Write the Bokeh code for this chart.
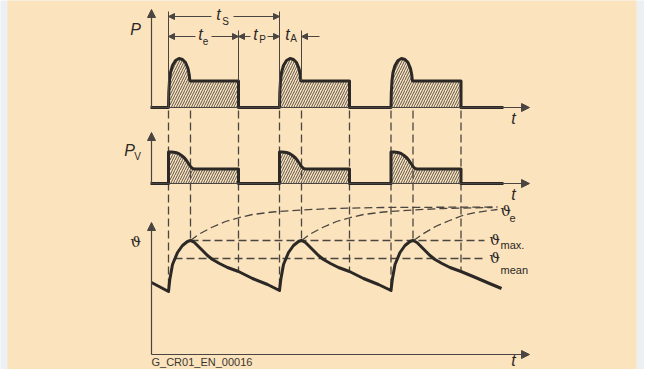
from bokeh.plotting import figure
from bokeh.models import Range1d, Arrow, NormalHead
from bokeh.core.properties import value
from bokeh.embed import file_html
from bokeh.resources import INLINE

# ---------------- data (t in diagram time units, values above each panel baseline) -------------
pulse_start = [17, 128, 239.5]
hump_end = [39, 150, 261.5]
pulse_end = [87, 198, 309.5]

# supplied power P
P_t = [-1, 17, 17.3, 18, 19, 21, 24, 27.5, 31, 34, 36.5, 37.7, 38.3, 39, 87, 87,
       128, 128.3, 129, 130, 132, 135, 138.5, 142, 145, 147.5, 148.7, 149.3, 150, 198, 198,
       239.5, 239.8, 240.5, 241.5, 243.5, 246.5, 250, 253.5, 256.5, 259, 260.2, 260.8, 261.5, 309.5, 309.5,
       352]
P_v = [0, 0, 15, 27, 35, 42, 47, 49, 48, 45, 39, 33, 27, 26.5, 26.5, 0,
       0, 15, 27, 35, 42, 47, 49, 48, 45, 39, 33, 27, 26.5, 26.5, 0,
       0, 15, 27, 35, 42, 47, 49, 48, 45, 39, 33, 27, 26.5, 26.5, 0,
       0]

# power loss Pv
Pv_t = [-1, 17, 17, 20, 24, 27, 30, 33, 35, 37, 39, 41, 43, 87, 87,
        128, 128, 131, 135, 138, 141, 144, 146, 148, 150, 152, 154, 198, 198,
        239.5, 239.5, 242.5, 246.5, 249.5, 252.5, 255.5, 257.5, 259.5, 261.5, 263.5, 265.5, 309.5, 309.5,
        352]
Pv_v = [0, 0, 31.5, 31.5, 31, 30, 28, 25.5, 23, 20, 17, 15, 14.5, 14.5, 0,
        0, 31.5, 31.5, 31, 30, 28, 25.5, 23, 20, 17, 15, 14.5, 14.5, 0,
        0, 31.5, 31.5, 31, 30, 28, 25.5, 23, 20, 17, 15, 14.5, 14.5, 0,
        0]

# temperature theta
th_t = [0, 17, 18.3, 21, 26, 31, 36, 39, 43, 47, 51, 56, 61, 68, 76, 87, 101, 116,
        128, 129.3, 132, 137, 142, 147, 150, 154, 158, 162, 167, 172, 179, 187, 198, 212, 227,
        239.5, 240.8, 243.5, 248.5, 253.5, 258.5, 261.5, 265.5, 269.5, 273.5, 278.5, 283.5, 290.5,
        298.5, 309.5, 324, 338, 350]
th_v = [72, 63, 75, 90, 102, 109, 113, 114, 112, 108, 104, 99, 95, 91, 87, 83, 76, 70,
        64, 75, 90, 102, 109, 113, 114, 112, 108, 104, 99, 95, 91, 87, 83, 76, 70,
        64, 75, 90, 102, 109, 113, 114, 112, 108, 104, 99, 95, 91,
        87, 83, 77, 71, 66]

# heating curves towards the final temperature theta_e
e1_t = [39, 47, 60, 74, 88, 101, 121, 150, 181, 231, 346]
e1_v = [114, 120, 127, 133, 137, 140, 142.5, 144.5, 146, 147, 147.5]
e2_t = [150, 158, 171, 185, 199, 212, 232, 261, 291, 341]
e2_v = [114, 120, 127, 133, 137, 140, 142.5, 144.5, 146, 147]
e3_t = [262, 271, 284, 298, 311, 324, 341, 346]
e3_v = [114, 120.3, 128, 134, 139, 142, 144.3, 145]

# projection lines: bottom ends on theta curve
proj_t = [17, 39, 87, 128, 150, 198, 239.5, 261.5, 309.5]
proj_bottom = [63, 114, 83, 64, 114, 83, 64, 114, 83]
theta_max = 114
theta_mean = 96

# ---------------- layout constants ----------------
P_BASE = 247
PV_BASE = 171
TH_BASE = 0
AX_END = 378
INK = "#2b2825"
THIN = "#4a4540"
BEIGE = "#FBE3BD"
OUTER = "#EDF0F3"
SANS = value("Liberation Sans")
SERIF = value("DejaVu Serif")

p = figure(width=644, height=369, x_range=Range1d(-151, 493), y_range=Range1d(-15, 354),
           output_backend="svg", toolbar_location=None, min_border=0,
           x_axis_type=None, y_axis_type=None)
p.grid.visible = False
p.outline_line_color = None
p.background_fill_color = OUTER
p.border_fill_color = OUTER

p.quad(left=-144, right=485, bottom=-20, top=360, fill_color=BEIGE, line_color=None)

# hatched areas
HATCH = dict(fill_color=None, hatch_pattern="/", hatch_color="#5a534b", hatch_scale=5, hatch_weight=1)
p.varea(x=P_t, y1=[P_BASE] * len(P_t), y2=[P_BASE + v for v in P_v], **HATCH)
p.varea(x=Pv_t, y1=[PV_BASE] * len(Pv_t), y2=[PV_BASE + v for v in Pv_v], **HATCH)

# dashed projection lines
DASH = dict(line_color=THIN, line_width=1.3, line_dash="8 4")
p.segment(x0=proj_t, y0=[244] * len(proj_t), x1=proj_t, y1=proj_bottom, **DASH)
p.segment(x0=[39, 23], y0=[theta_max, theta_mean], x1=[333, 333], y1=[theta_max, theta_mean], **DASH)
p.multi_line(xs=[e1_t, e2_t, e3_t], ys=[e1_v, e2_v, e3_v], **DASH)

# axes with arrows
def axis_arrow(x0, y0, x1, y1, size=8):
    p.add_layout(Arrow(x_start=x0, y_start=y0, x_end=x1, y_end=y1, line_color=THIN, line_width=1.2,
                       end=NormalHead(size=size, fill_color=THIN, line_color=THIN, line_width=1)))

axis_arrow(0, P_BASE, 0, 345)
axis_arrow(0, PV_BASE, 0, 222)
axis_arrow(0, TH_BASE, 0, 132)
for b in (P_BASE, PV_BASE, TH_BASE):
    axis_arrow(0, b, AX_END, b)

# signals
p.line(P_t, [P_BASE + v for v in P_v], line_color=INK, line_width=3, line_join="round")
p.line(Pv_t, [PV_BASE + v for v in Pv_v], line_color=INK, line_width=3, line_join="round")
p.line(th_t, th_v, line_color=INK, line_width=3, line_join="round")

# dimension extension lines
p.segment(x0=[17, 128, 87, 150], y0=[343, 343, 324, 324], x1=[17, 128, 87, 150],
          y1=[P_BASE, P_BASE, P_BASE + 26.5, P_BASE + 26.5], line_color=THIN, line_width=1)

def dim_arrow(x0, x1, y):
    p.add_layout(Arrow(x_start=x0, y_start=y, x_end=x1, y_end=y, line_color=THIN, line_width=1,
                       end=NormalHead(size=6, fill_color=THIN, line_color=THIN, line_width=1)))

dim_arrow(60, 17, 338); dim_arrow(82, 128, 338)
dim_arrow(44, 17, 318); dim_arrow(60, 87, 318)
dim_arrow(99, 87, 318); dim_arrow(116, 128, 318)
dim_arrow(168, 150, 318)

# texts
main_txt = ["t", "t", "t", "t", "P", "P", "t", "t", "t"]
main_x = [67, 49, 104, 136, -16, -22, 362, 362, 362]
main_y = [340, 320, 320, 320, 325, 204, 236, 160, -6]
p.text(x=main_x, y=main_y, text=main_txt, text_font=SANS, text_font_style="italic",
       text_font_size="16px", text_color=INK, text_align="center", text_baseline="middle")

sub_txt = ["S", "e", "P", "A", "V"]
sub_x = [74, 54, 111, 142, -14]
sub_y = [333, 314, 315, 316, 198]
p.text(x=sub_x, y=sub_y, text=sub_txt, text_font=SANS, text_font_size="10px", text_color=INK,
       text_align="center", text_baseline="middle")

th_txt = ["ϑ", "ϑ", "ϑ", "ϑ"]
th_x = [-16, 354, 343, 343]
th_y = [113, 144, 115, 97]
p.text(x=th_x, y=th_y, text=th_txt, text_font=SERIF, text_font_size="15px", text_color=INK,
       text_align="center", text_baseline="middle")

thsub_txt = ["e", "max.", "mean"]
thsub_x = [358, 349, 349]
thsub_y = [137, 110, 85]
p.text(x=thsub_x, y=thsub_y, text=thsub_txt, text_font=SANS, text_font_size="11px", text_color=INK,
       text_align="left", text_baseline="middle")

p.text(x=[0], y=[-7], text=["G_CR01_EN_00016"], text_font=SANS, text_font_size="11px",
       text_color="#3a3632", text_align="left", text_baseline="middle")

open("out.html", "w").write(file_html(p, INLINE))
